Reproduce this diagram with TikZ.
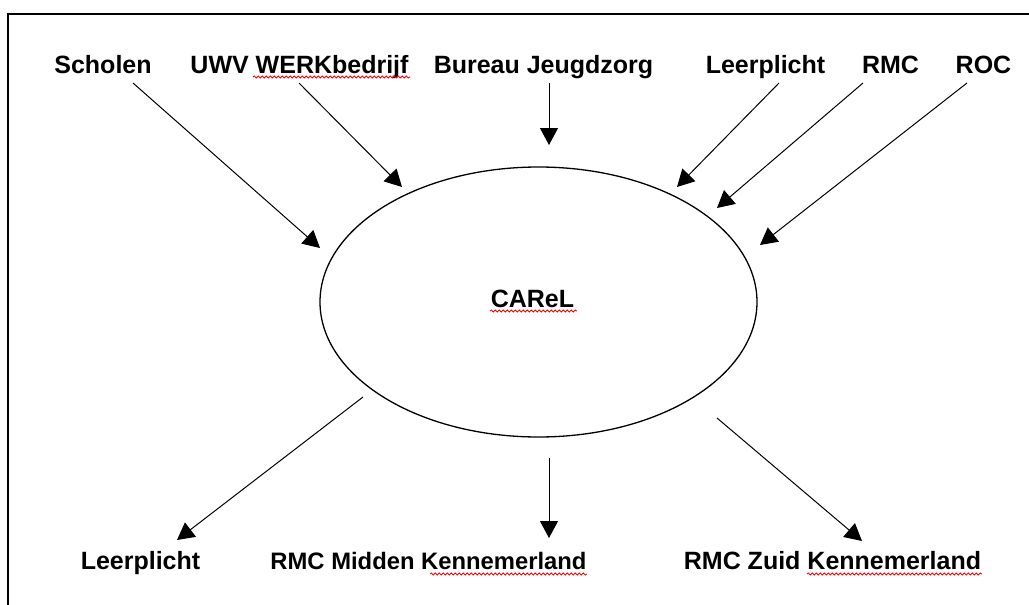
\documentclass[tikz,border=0pt]{standalone}
\usepackage{fontspec}
\setmainfont{Liberation Sans}
\usetikzlibrary{arrows.meta,decorations.pathmorphing,shapes.geometric}
\tikzset{
  lbl/.style={font=\fontsize{25}{29}\selectfont\bfseries, inner sep=0pt, anchor=base},
  conn/.style={line width=1pt, -{Triangle[length=17pt,width=18pt]}},
  spell/.style={red, line width=0.8pt, decorate, decoration={snake, amplitude=1.1pt, segment length=4pt}},
}
\begin{document}
\begin{tikzpicture}[x=1pt,y=-1pt]
\useasboundingbox (0,0) rectangle (1029,605);
% frame
\draw[line width=2pt] (8,605) -- (8,14) -- (1029,14);
% ellipse
\node[draw, line width=1.3pt, ellipse, minimum width=437pt, minimum height=270pt, inner sep=0pt] (carel) at (538.5,302) {};
\node[lbl] (carelt) at (532.5,307) {CAReL};
% top labels
\node[lbl] (scholen) at (103,73) {Scholen};
\node[lbl] (uwv) at (299.5,73) {UWV WERKbedrijf};
\node[lbl] (bureau) at (543.5,73) {Bureau Jeugdzorg};
\node[lbl] (leer1) at (765.5,73) {Leerplicht};
\node[lbl] (rmc) at (890.5,73) {RMC};
\node[lbl] (roc) at (983.5,73) {ROC};
% bottom labels
\node[lbl] (leer2) at (140.5,569) {Leerplicht};
\node[lbl, font=\fontsize{23.8}{28}\selectfont\bfseries] (midden) at (428.5,569) {RMC Midden Kennemerland};
\node[lbl] (zuid) at (832.5,569) {RMC Zuid Kennemerland};
% connector end points
\coordinate (s1) at (133,83);  \coordinate (e1) at (320,248);
\coordinate (s2) at (299,83);  \coordinate (e2) at (402,187);
\coordinate (s3) at (549,83);  \coordinate (e3) at (549,145);
\coordinate (s4) at (779,83);  \coordinate (e4) at (677,187);
\coordinate (s5) at (863,83);  \coordinate (e5) at (717,208);
\coordinate (s6) at (967,83);  \coordinate (e6) at (760,245);
\coordinate (s7) at (363,397); \coordinate (e7) at (177,540);
\coordinate (s8) at (549,458); \coordinate (e8) at (549,538);
\coordinate (s9) at (717,418); \coordinate (e9) at (862,541);
\draw[conn] (s1) -- (e1);
\draw[conn] (s2) -- (e2);
\draw[conn] (s3) -- (e3);
\draw[conn] (s4) -- (e4);
\draw[conn] (s5) -- (e5);
\draw[conn] (s6) -- (e6);
\draw[conn] (s7) -- (e7);
\draw[conn] (s8) -- (e8);
\draw[conn] (s9) -- (e9);
% spell-check underlines
\coordinate (w1a) at (253,77); \coordinate (w1b) at (410,77);
\coordinate (w2a) at (490,311); \coordinate (w2b) at (577,311);
\coordinate (w3a) at (430,574); \coordinate (w3b) at (587,574);
\coordinate (w4a) at (807,574); \coordinate (w4b) at (982,574);
\draw[spell] (w1a) -- (w1b);
\draw[spell] (w2a) -- (w2b);
\draw[spell] (w3a) -- (w3b);
\draw[spell] (w4a) -- (w4b);
\end{tikzpicture}
\end{document}
